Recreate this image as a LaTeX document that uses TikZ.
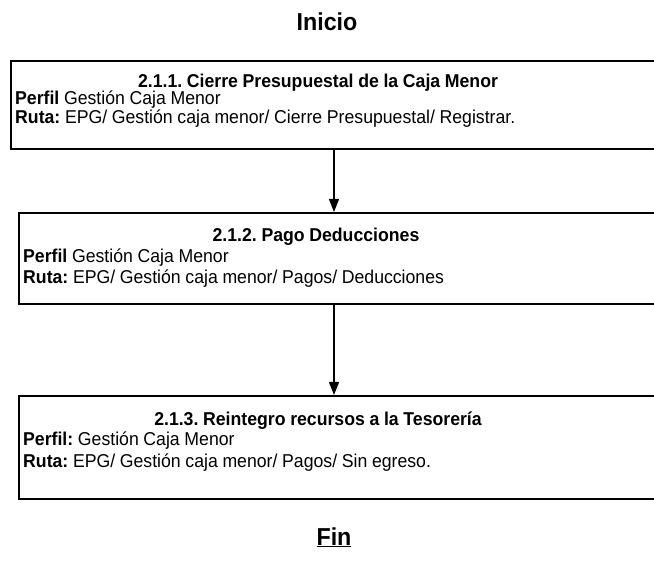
\documentclass[tikz,border=0pt]{standalone}
\usepackage{fontspec}
\setmainfont[FakeStretch=0.95, WordSpace=0.95]{Liberation Sans}
\usetikzlibrary{arrows.meta}
\frenchspacing
\tikzset{
  stepbox/.style={draw, line width=1.6pt, rectangle, anchor=north west, inner sep=0pt},
  boxtitle/.style={font=\bfseries\fontsize{18.6}{22}\selectfont, anchor=base, inner sep=0pt},
  boxline/.style={font=\fontsize{18.6}{22}\selectfont, anchor=base west, inner sep=0pt},
  endlabel/.style={font=\bfseries\fontsize{24.5}{28}\selectfont, anchor=base, inner sep=0pt},
  flow/.style={line width=1.4pt, -{Triangle[width=10pt,length=13pt]}}
}
\begin{document}
\begin{tikzpicture}[x=1pt,y=-1pt]
\useasboundingbox (0,0) rectangle (654,580);
\clip (0,0) rectangle (654,580);
\node[endlabel] (inicio) at (327,31) {Inicio};

\node[stepbox, minimum width=680pt, minimum height=88pt] (b1) at (10,60) {};
\node[boxtitle] (t1) at (318,88) {2.1.1. Cierre Presupuestal de la Caja Menor};
\node[boxline] (p1) at (15,105) {\textbf{Perfil} Gestión Caja Menor};
\node[boxline] (r1) at (15,124) {\textbf{Ruta:} EPG/ Gestión caja menor/ Cierre Presupuestal/ Registrar.};

\node[stepbox, minimum width=680pt, minimum height=91pt] (b2) at (18,212) {};
\node[boxtitle] (t2) at (316,242) {2.1.2. Pago Deducciones};
\node[boxline] (p2) at (23,263) {\textbf{Perfil} Gestión Caja Menor};
\node[boxline] (r2) at (23,284) {\textbf{Ruta:} EPG/ Gestión caja menor/ Pagos/ Deducciones};

\node[stepbox, minimum width=680pt, minimum height=103pt] (b3) at (18,395) {};
\node[boxtitle] (t3) at (318,425) {2.1.3. Reintegro recursos a la Tesorería};
\node[boxline] (p3) at (23,446) {\textbf{Perfil:} Gestión Caja Menor};
\node[boxline] (r3) at (23,467) {\textbf{Ruta:} EPG/ Gestión caja menor/ Pagos/ Sin egreso.};

\node[endlabel] (fin) at (334,545) {\underline{Fin}};

\coordinate (ax) at (334,0);
\draw[flow] (b1.south -| ax) -- (b2.north -| ax);
\draw[flow] (b2.south -| ax) -- (b3.north -| ax);
\end{tikzpicture}
\end{document}
